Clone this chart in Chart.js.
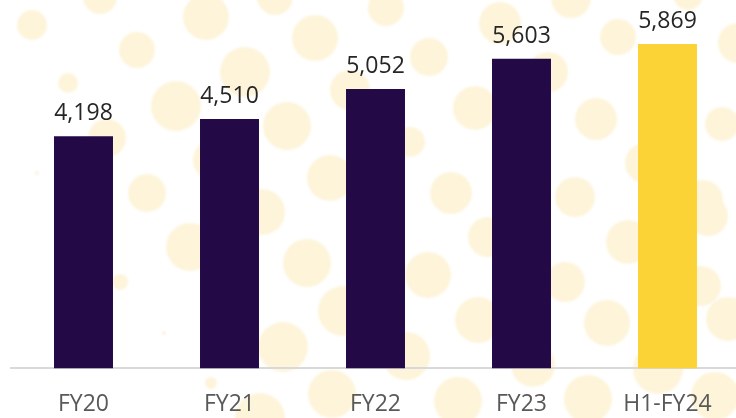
<!DOCTYPE html>
<html>
<head>
<meta charset="utf-8">
<script src="https://cdn.jsdelivr.net/npm/chart.js@4/dist/chart.umd.min.js"></script>
<style>
  html, body { margin: 0; padding: 0; background: #ffffff; overflow: hidden; }
  #wrap { width: 736px; height: 418px; overflow: hidden; position: relative; }
  canvas { display: block; }
</style>
</head>
<body>
<div id="wrap"><canvas id="c" width="748" height="440"></canvas></div>
<script>
// ---- data ----
const categories = ["FY20", "FY21", "FY22", "FY23", "H1-FY24"];
const values = [4198, 4510, 5052, 5603, 5869];
const barColors = ["#230A46", "#230A46", "#230A46", "#230A46", "#FCD337"];

// ---- decorative background dots (not data) ----
const dots = [
  [32,25,15],[137,50,18],[206,17,23],[315,38,23],[245,72,25],[68,83,10],[176,106,25],[287,126,24],
  [107,138,19],[147,193,19],[330,178,23],[100,-3,17],[275,-3,18],[213,160,20],[350,90,20],[37,173,2],
  [262,212,23],[386,8,18],[429,57,19],[500,23,21],[571,-2,20],[618,37,18],[548,72,20],[475,108,22],
  [596,119,21],[722,124,17],[738,43,20],[410,142,15],[451,193,21],[575,197,20],[645,163,20],[703,200,20],
  [688,-5,15],[190,247,24],[120,282,8],[164,333,2],[307,263,24],[283,347,25],[343,311,25],[211,383,6],
  [332,394,24],[260,418,25],[428,275,23],[406,356,24],[478,320,23],[488,237,20],[458,401,24],[565,282,20],
  [628,242,22],[607,323,23],[588,399,24],[533,365,22],[701,286,20],[728,319,22],[708,216,20],[715,396,24],
  [658,369,25]
];

const dotsPlugin = {
  id: 'dots',
  beforeDraw(chart) {
    const ctx = chart.ctx;
    ctx.save();
    ctx.fillStyle = '#FDF4DA';
    ctx.filter = 'blur(0.8px)';
    dots.forEach(d => {
      ctx.beginPath();
      ctx.arc(d[0], d[1], d[2], 0, Math.PI * 2);
      ctx.fill();
    });
    ctx.restore();
  }
};

const valueLabels = {
  id: 'valueLabels',
  afterDatasetsDraw(chart) {
    const ctx = chart.ctx;
    const meta = chart.getDatasetMeta(0);
    ctx.save();
    ctx.font = '23px "Open Sans"';
    ctx.fillStyle = '#262626';
    ctx.textAlign = 'center';
    ctx.textBaseline = 'alphabetic';
    meta.data.forEach((bar, i) => {
      const v = chart.data.datasets[0].data[i];
      ctx.fillText(v.toLocaleString('en-US'), bar.x, bar.y - 16);
    });
    ctx.restore();
  }
};

new Chart(document.getElementById('c'), {
  type: 'bar',
  data: {
    labels: categories,
    datasets: [{
      data: values,
      backgroundColor: barColors,
      borderWidth: 0,
      barPercentage: 0.404,
      categoryPercentage: 1.0
    }]
  },
  options: {
    responsive: false,
    animation: false,
    devicePixelRatio: 1,
    layout: { padding: { left: 10.5, right: 7.5, top: 0, bottom: 0 } },
    plugins: { legend: { display: false }, tooltip: { enabled: false } },
    scales: {
      x: {
        grid: { display: false, drawTicks: false },
        border: { display: true, color: '#D9D9D9', width: 2 },
        ticks: {
          color: '#595959',
          font: { family: '"Open Sans"', size: 23 },
          padding: 22,
          maxRotation: 0
        }
      },
      y: {
        display: false,
        min: 0,
        max: 6664
      }
    }
  },
  plugins: [dotsPlugin, valueLabels]
});
</script>
</body>
</html>
